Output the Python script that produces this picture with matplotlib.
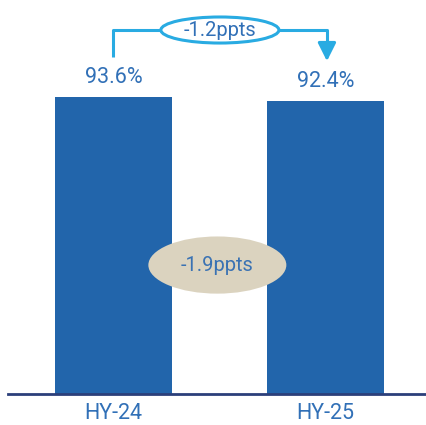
import matplotlib.pyplot as plt
from matplotlib.patches import Ellipse

# half-year values (%)
periods = ["HY-24", "HY-25"]
values = [93.6, 92.4]
top_change = "-1.2ppts"
mid_change = "-1.9ppts"

bar_color = "#2265ab"
text_color = "#3170b7"
cyan = "#29abe2"
beige = "#dbd3bf"

plt.rcParams['font.family'] = ['Roboto', 'DejaVu Sans']

fig = plt.figure(figsize=(4.27, 4.25), dpi=100)
ax = fig.add_axes([8 / 427, 31 / 425, 1 - 8 / 427, 1 - 31 / 425])

x = list(range(len(periods)))
bars = ax.bar(x, values, width=0.552, color=bar_color, zorder=2)

ax.set_xlim(-0.4976, 1.479)
ax.set_ylim(0, 124.05)

for rect, v in zip(bars, values):
    ax.annotate(f"{v}%", (rect.get_x() + rect.get_width() / 2, v),
                xytext=(0, 14), textcoords="offset points",
                ha="center", va="center", fontsize=15.5,
                color=text_color)

# bracket between the two bars with the change label
y_top = 114.6
ax.plot([x[0], x[0], x[1] + 0.007, x[1] + 0.007],
        [106.1, y_top, y_top, 109.6],
        color=cyan, lw=2.2, solid_capstyle="butt", zorder=3)
ax.annotate("", xy=(x[1] + 0.007, 104.8), xytext=(x[1] + 0.007, 110.5),
            arrowprops=dict(arrowstyle="-|>,head_length=1.1,head_width=0.55",
                            color=cyan, lw=2.2, shrinkA=0, shrinkB=0),
            zorder=3)
ax.add_patch(Ellipse((0.502, y_top), 0.557, 8.2, facecolor="white",
                     edgecolor=cyan, lw=2.2, zorder=4))
ax.text(0.502, y_top, top_change, ha="center", va="center", fontsize=14.5,
        color=text_color, zorder=5)

ax.add_patch(Ellipse((0.49, 40.6), 0.651, 18, facecolor=beige,
                     edgecolor="none", zorder=4))
ax.text(0.49, 40.6, mid_change, ha="center", va="center", fontsize=14.5,
        color="#3a72b3", zorder=5)

for side in ["top", "right", "left"]:
    ax.spines[side].set_visible(False)
ax.spines["bottom"].set_color("#2b3f7a")
ax.spines["bottom"].set_linewidth(2)
ax.spines["bottom"].set_zorder(3)
ax.set_yticks([])
ax.set_xticks(x)
ax.set_xticklabels(periods, fontsize=15.5, color=text_color)
ax.tick_params(axis="x", length=0, pad=6.5)

fig.savefig("out.png", dpi=100)
